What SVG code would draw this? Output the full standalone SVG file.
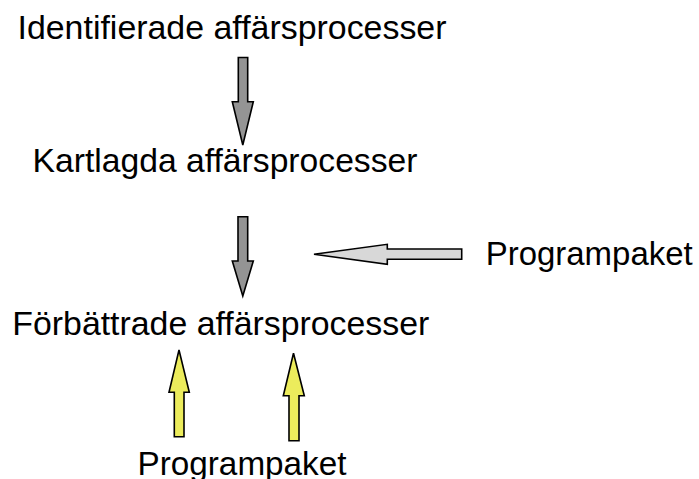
<svg xmlns="http://www.w3.org/2000/svg" width="699" height="479" viewBox="0 0 699 479">
  <style>
    .label { font-family: "Liberation Sans", Arial, sans-serif; font-size: 33.5px; fill: #000; }
    .arrow { stroke: #000; stroke-width: 1.6; stroke-linejoin: miter; }
    .grey { fill: #949494; }
    .light { fill: #d8d8d8; }
    .yellow { fill: #ecec5c; }
  </style>
  <rect width="699" height="479" fill="#fff"/>

  <g id="identified">
    <text class="label" x="17.5" y="38.5" textLength="429" lengthAdjust="spacingAndGlyphs">Identifierade affärsprocesser</text>
  </g>
  <g id="mapped">
    <text class="label" x="32.5" y="172" textLength="385" lengthAdjust="spacingAndGlyphs">Kartlagda affärsprocesser</text>
  </g>
  <g id="improved">
    <text class="label" x="12.3" y="335" textLength="417" lengthAdjust="spacingAndGlyphs">Förbättrade affärsprocesser</text>
  </g>
  <g id="package-right">
    <text class="label" x="485.7" y="265" textLength="207" lengthAdjust="spacingAndGlyphs">Programpaket</text>
  </g>
  <g id="package-bottom">
    <text class="label" x="137.5" y="475" textLength="209" lengthAdjust="spacingAndGlyphs">Programpaket</text>
  </g>

  <g id="connectors">
    <!-- identified -> mapped -->
    <path class="arrow grey" d="M238.3,57.5 H247.7 V101.7 H253.3 L242.8,145 L232.3,101.7 H238.3 Z"/>
    <!-- mapped -> improved -->
    <path class="arrow grey" d="M238,216.7 H247.7 V261 H253.3 L242.8,296 L232.3,261 H238 Z"/>
    <!-- package (right) -> improved -->
    <path class="arrow light" d="M461.7,249 V259.3 H387.3 V264.3 L314,254.3 L387.3,244.3 V249 Z"/>
    <!-- package (bottom) -> improved, left -->
    <path class="arrow yellow" d="M174.3,436.7 V392.3 H169 L179,350 L189.3,392.3 H184 V436.7 Z"/>
    <!-- package (bottom) -> improved, right -->
    <path class="arrow yellow" d="M289,440.7 V395.7 H283.3 L293.5,353.3 L304.3,395.7 H299 V440.7 Z"/>
  </g>
</svg>
